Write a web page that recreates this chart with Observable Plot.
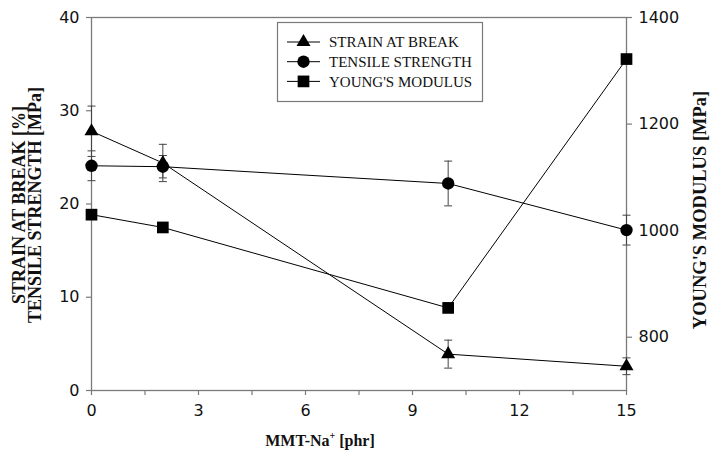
<!DOCTYPE html>
<html>
<head>
<meta charset="utf-8">
<script src="https://cdn.jsdelivr.net/npm/d3@7"></script>
<script src="https://cdn.jsdelivr.net/npm/@observablehq/plot@0.6"></script>
<style>
  html, body { margin: 0; padding: 0; background: #fff; }
  #chart { width: 711px; height: 461px; }
</style>
</head>
<body>
<div id="chart"></div>
<script>
// ---- data ----
const xVals = [0, 2, 10, 15];                 // MMT-Na+ [phr]
const strain = [27.8, 24.4, 3.9, 2.6];        // strain at break [%]
const strainErr = [2.7, 2.0, 1.5, 0.9];
const tensile = [24.1, 24.0, 22.2, 17.2];     // tensile strength [MPa]
const tensileErr = [1.6, 1.2, 2.4, 1.6];
const modulus = [1030, 1006, 855, 1322];      // Young's modulus [MPa]
const leftTicks = [0, 10, 20, 30, 40];
const rightTicks = [800, 1000, 1200, 1400];
const xTicks = [0, 3, 6, 9, 12, 15];
const xMinorTicks = [1.5, 4.5, 7.5, 10.5, 13.5];
const leftDomain = [0, 40];
const rightDomain = [700, 1400];
const seriesNames = ["STRAIN AT BREAK", "TENSILE STRENGTH", "YOUNG'S MODULUS"];
const seriesSymbols = ["triangle", "circle", "square"];

// map right-axis values onto the left scale
const toLeft = v => leftDomain[0] + (v - rightDomain[0]) / (rightDomain[1] - rightDomain[0]) * (leftDomain[1] - leftDomain[0]);
const fromLeft = v => rightDomain[0] + (v - leftDomain[0]) / (leftDomain[1] - leftDomain[0]) * (rightDomain[1] - rightDomain[0]);

const strainData = xVals.map((x, i) => ({x, y: strain[i], lo: strain[i] - strainErr[i], hi: strain[i] + strainErr[i]}));
const tensileData = xVals.map((x, i) => ({x, y: tensile[i], lo: tensile[i] - tensileErr[i], hi: tensile[i] + tensileErr[i]}));
const modulusData = xVals.map((x, i) => ({x, y: toLeft(modulus[i])}));
const errData = [...strainData, ...tensileData];

const gray = "#7a7a7a";
const cap = { draw(ctx) { ctx.moveTo(-4, 0); ctx.lineTo(4, 0); } };
const R = {triangle: 5.2, circle: 6.2, square: 6.6};

const plot = Plot.plot({
  width: 711,
  height: 461,
  marginLeft: 91,
  marginRight: 85,
  marginTop: 17,
  marginBottom: 71,
  x: {domain: [0, 15]},
  y: {domain: leftDomain},
  style: {fontFamily: "'DejaVu Sans', sans-serif", fontSize: "16px", color: "#111", background: "#fff"},
  marks: [
    Plot.frame({stroke: gray, strokeWidth: 1.3}),
    Plot.axisX(xMinorTicks, {tickSize: 5, tickFormat: () => "", stroke: gray, strokeWidth: 1.2, label: null}),
    Plot.axisX(xTicks, {tickSize: 5, tickPadding: 9, stroke: gray, strokeWidth: 1.2, fill: "#111", label: null}),
    Plot.axisY(leftTicks, {tickSize: 5, tickPadding: 7, stroke: gray, strokeWidth: 1.2, fill: "#111", label: null}),
    Plot.axisY(rightTicks.map(toLeft), {anchor: "right", tickSize: 5, tickPadding: 7, stroke: gray, strokeWidth: 1.2, fill: "#111", label: null,
      tickFormat: d => String(Math.round(fromLeft(d)))}),
    Plot.ruleX(errData, {x: "x", y1: "lo", y2: "hi", stroke: "#444", strokeWidth: 1}),
    Plot.dot(errData, {x: "x", y: "lo", symbol: cap, r: 4, stroke: "#444", strokeWidth: 1, fill: "none"}),
    Plot.dot(errData, {x: "x", y: "hi", symbol: cap, r: 4, stroke: "#444", strokeWidth: 1, fill: "none"}),
    Plot.line(strainData, {x: "x", y: "y", stroke: "#000", strokeWidth: 1}),
    Plot.line(tensileData, {x: "x", y: "y", stroke: "#000", strokeWidth: 1}),
    Plot.line(modulusData, {x: "x", y: "y", stroke: "#000", strokeWidth: 1}),
    Plot.dot(strainData, {x: "x", y: "y", symbol: "triangle", r: R.triangle, fill: "#000", stroke: "none"}),
    Plot.dot(tensileData, {x: "x", y: "y", symbol: "circle", r: R.circle, fill: "#000", stroke: "none"}),
    Plot.dot(modulusData, {x: "x", y: "y", symbol: "square", r: R.square, fill: "#000", stroke: "none"})
  ]
});
document.getElementById("chart").appendChild(plot);

// ---- titles and legend ----
const svg = d3.select(plot);
const serif = "'Liberation Serif', 'Times New Roman', serif";

// x axis title
const xt = svg.append("text")
  .attr("x", 320).attr("y", 446)
  .attr("text-anchor", "middle")
  .attr("font-family", serif).attr("font-weight", "bold").attr("font-size", 16)
  .attr("fill", "#111");
xt.append("tspan").text("MMT-Na");
xt.append("tspan").attr("font-size", 10).attr("dy", -7).text("+");
xt.append("tspan").attr("dy", 7).text(" [phr]");

// left y titles
svg.append("text")
  .attr("transform", "translate(25,205) rotate(-90)")
  .attr("text-anchor", "middle")
  .attr("font-family", serif).attr("font-weight", "bold").attr("font-size", 18)
  .attr("fill", "#111")
  .text("STRAIN AT BREAK [%]");
svg.append("text")
  .attr("transform", "translate(41,205) rotate(-90)")
  .attr("text-anchor", "middle")
  .attr("font-family", serif).attr("font-weight", "bold").attr("font-size", 18)
  .attr("fill", "#111")
  .text("TENSILE STRENGTH [MPa]");

// right y title
svg.append("text")
  .attr("transform", "translate(706,210) rotate(-90)")
  .attr("text-anchor", "middle")
  .attr("font-family", serif).attr("font-weight", "bold").attr("font-size", 18.5)
  .attr("fill", "#111")
  .text("YOUNG'S MODULUS [MPa]");

// legend
const lg = svg.append("g");
lg.append("rect")
  .attr("x", 277.5).attr("y", 22.5).attr("width", 205).attr("height", 79)
  .attr("fill", "#fff").attr("stroke", gray).attr("stroke-width", 1.2);
const symMap = {triangle: d3.symbolTriangle, circle: d3.symbolCircle, square: d3.symbolSquare};
seriesNames.forEach((name, i) => {
  const cy = 42 + i * 19.7;
  lg.append("line").attr("x1", 287).attr("x2", 320).attr("y1", cy).attr("y2", cy)
    .attr("stroke", "#000").attr("stroke-width", 1);
  const s = seriesSymbols[i];
  lg.append("path")
    .attr("transform", `translate(303.5,${cy})`)
    .attr("d", d3.symbol(symMap[s], Math.PI * R[s] * R[s])())
    .attr("fill", "#000");
  lg.append("text")
    .attr("x", 329).attr("y", cy).attr("dy", "0.35em")
    .attr("text-anchor", "start")
    .attr("font-family", serif).attr("font-size", 15).attr("fill", "#111")
    .text(name);
});
</script>
</body>
</html>
